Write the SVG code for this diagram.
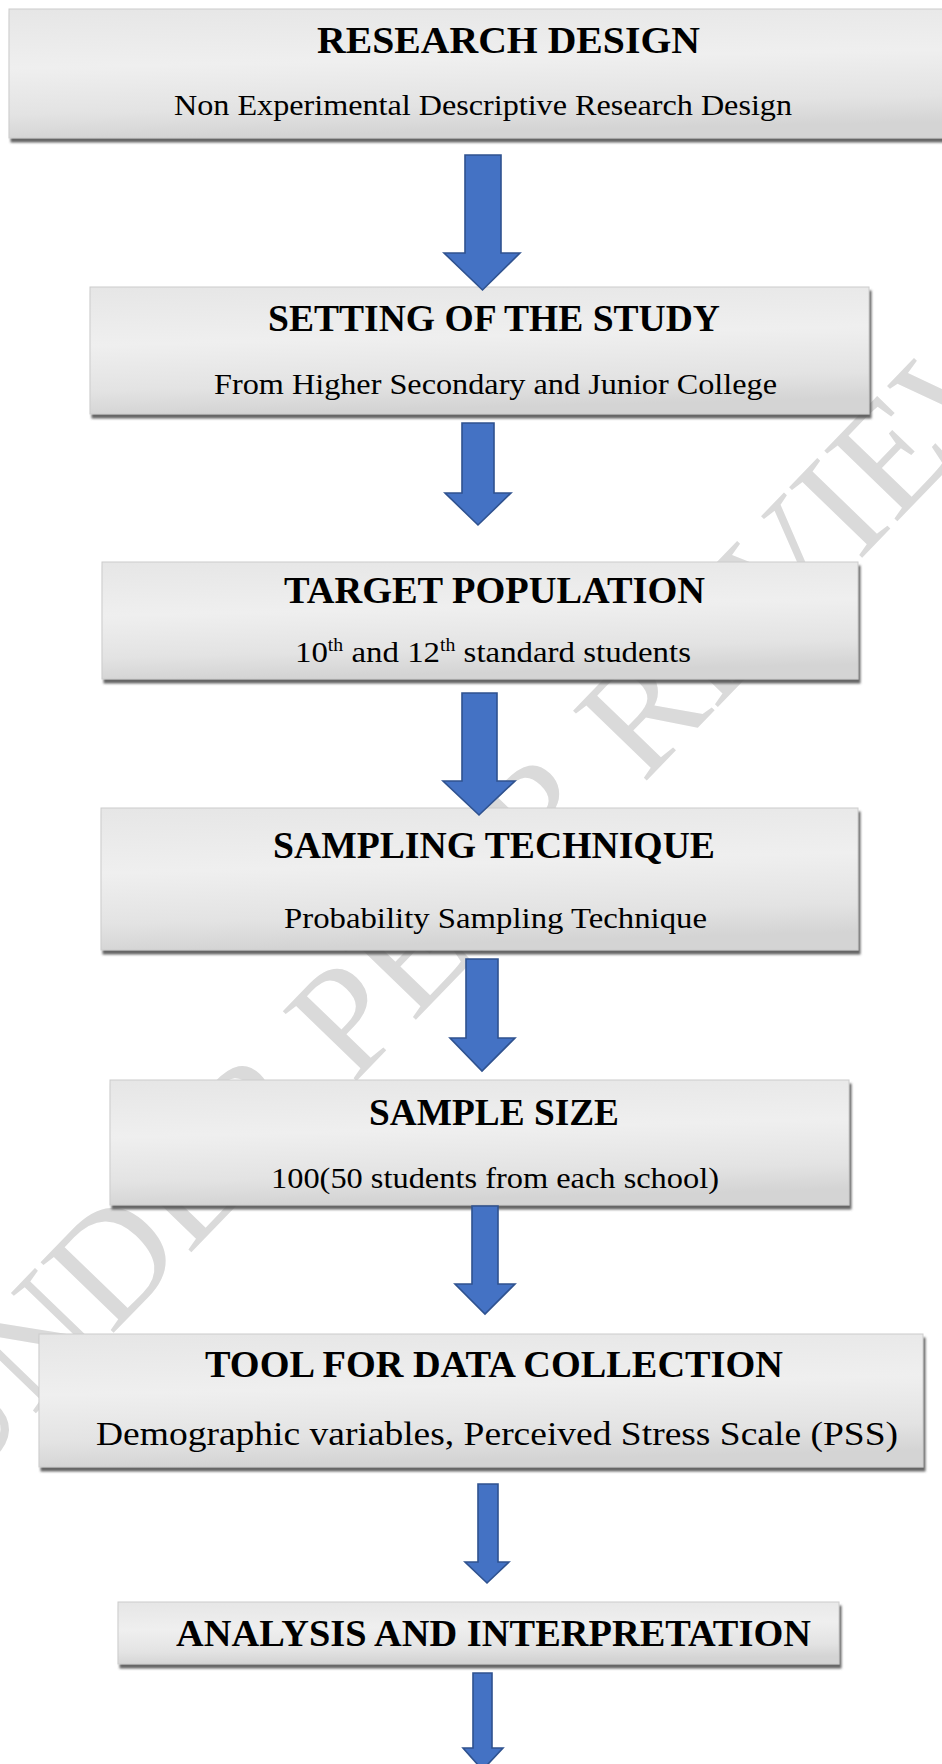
<svg xmlns="http://www.w3.org/2000/svg" width="942" height="1764" viewBox="0 0 942 1764">
<style>
.box{fill:url(#boxGrad);stroke:#cccccc;stroke-width:1;filter:url(#shadow)}
.title{font-family:"Liberation Serif","Times New Roman",serif;font-weight:bold;font-size:38px;fill:#000}
.sub{font-family:"Liberation Serif","Times New Roman",serif;font-size:30px;fill:#000}
.sup{font-size:18px}
.arrow{fill:#4472C4;stroke:#2F528F;stroke-width:1.6;stroke-linejoin:miter}
.wm{font-family:"Liberation Serif","Times New Roman",serif;font-size:155px;fill:#dadada}
</style>
<defs>
<linearGradient id="boxGrad" x1="0" y1="0" x2="0.15" y2="1">
<stop offset="0" stop-color="#e6e6e6"/>
<stop offset="0.45" stop-color="#efefef"/>
<stop offset="0.8" stop-color="#e3e3e3"/>
<stop offset="1" stop-color="#d4d4d4"/>
</linearGradient>
<filter id="shadow" x="-5%" y="-10%" width="115%" height="130%">
<feDropShadow dx="2" dy="4" stdDeviation="1" flood-color="#555555" flood-opacity="0.9"/>
</filter>
</defs>
<rect width="942" height="1764" fill="#ffffff"/>
<g id="watermark">
<text class="wm" transform="translate(-45,1497) rotate(-46)">UNDER PEER REVIEW</text>
</g>
<g id="node-research-design">
<rect class="box" x="9" y="9" width="945" height="129"/>
<text class="title" x="317" y="53" textLength="383" lengthAdjust="spacingAndGlyphs">RESEARCH DESIGN</text>
<text class="sub" x="174" y="115" textLength="618" lengthAdjust="spacingAndGlyphs">Non Experimental Descriptive Research Design</text>
</g>
<g id="node-setting">
<rect class="box" x="90" y="287" width="779" height="127"/>
<text class="title" x="268" y="331" textLength="452" lengthAdjust="spacingAndGlyphs">SETTING OF THE STUDY</text>
<text class="sub" x="214" y="394" textLength="563" lengthAdjust="spacingAndGlyphs">From Higher Secondary and Junior College</text>
</g>
<g id="node-target-population">
<rect class="box" x="102" y="562" width="756" height="117"/>
<text class="title" x="284" y="603" textLength="421" lengthAdjust="spacingAndGlyphs">TARGET POPULATION</text>
<text class="sub" x="295" y="662" textLength="396" lengthAdjust="spacingAndGlyphs">10<tspan class="sup" dy="-11">th</tspan><tspan dy="11"> and 12</tspan><tspan class="sup" dy="-11">th</tspan><tspan dy="11"> standard students</tspan></text>
</g>
<g id="node-sampling-technique">
<rect class="box" x="101" y="808" width="757" height="142"/>
<text class="title" x="273" y="858" textLength="442" lengthAdjust="spacingAndGlyphs">SAMPLING TECHNIQUE</text>
<text class="sub" x="284" y="928" textLength="423" lengthAdjust="spacingAndGlyphs">Probability Sampling Technique</text>
</g>
<g id="node-sample-size">
<rect class="box" x="110" y="1080" width="739" height="125"/>
<text class="title" x="369" y="1125" textLength="250" lengthAdjust="spacingAndGlyphs">SAMPLE SIZE</text>
<text class="sub" x="271" y="1188" textLength="448" lengthAdjust="spacingAndGlyphs">100(50 students from each school)</text>
</g>
<g id="node-tool">
<rect class="box" x="39" y="1334" width="884" height="133"/>
<text class="title" x="205" y="1377" textLength="578" lengthAdjust="spacingAndGlyphs">TOOL FOR DATA COLLECTION</text>
<text class="sub" x="96" y="1445" textLength="802" lengthAdjust="spacingAndGlyphs" style="font-size:33px">Demographic variables, Perceived Stress Scale (PSS)</text>
</g>
<g id="node-analysis">
<rect class="box" x="118" y="1602" width="721" height="62"/>
<text class="title" x="176" y="1646" textLength="635" lengthAdjust="spacingAndGlyphs">ANALYSIS AND INTERPRETATION</text>
</g>
<g id="connectors">
<path class="arrow" d="M465,155 H501 V253 H520 L482.5,290 L444,253 H465 Z"/>
<path class="arrow" d="M462,423 H494 V493 H511 L478,525 L445,493 H462 Z"/>
<path class="arrow" d="M462,693 H497 V781 H515 L479,815 L443,781 H462 Z"/>
<path class="arrow" d="M466,959 H498 V1038 H515 L482,1071 L450,1038 H466 Z"/>
<path class="arrow" d="M472,1206 H498 V1284 H515 L485,1314 L455,1284 H472 Z"/>
<path class="arrow" d="M478,1484 H498 V1562 H509 L487,1583 L465,1562 H478 Z"/>
<path class="arrow" d="M473,1673 H492 V1748 H503 L482.5,1770 L463,1748 H473 Z"/>
</g>
</svg>
